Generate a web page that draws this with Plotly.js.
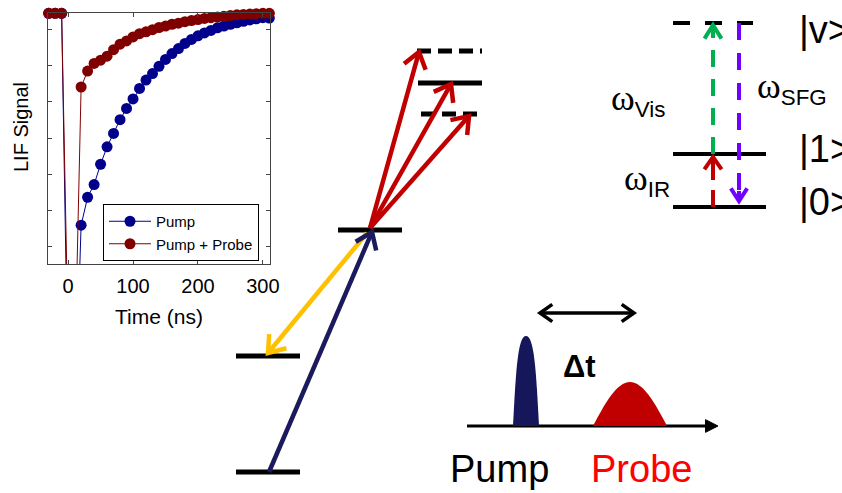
<!DOCTYPE html>
<html>
<head>
<meta charset="utf-8">
<script src="https://cdn.plot.ly/plotly-3.0.1.min.js"></script>
<style>
  html, body { margin: 0; padding: 0; background: #ffffff; }
  #chart { width: 842px; height: 493px; }
</style>
</head>
<body>
<div id="chart"></div>
<script>
// ---------------- chart data ----------------
const timeNs = [-30, -20, -10, 0, 10, 20, 30, 40, 50, 60, 70, 80, 90, 100, 110, 120, 130, 140, 150,
                160, 170, 180, 190, 200, 210, 220, 230, 240, 250, 260, 270, 280, 290, 300, 310];
const pumpSignal = [6.44, 6.44, 6.44, -4.0, -5.0, 0.60, 1.37, 1.72, 2.28, 2.76, 3.13, 3.51, 3.82, 4.08, 4.37,
                    4.60, 4.78, 4.98, 5.17, 5.33, 5.47, 5.61, 5.72, 5.82, 5.90, 5.97, 6.04, 6.09, 6.14,
                    6.18, 6.22, 6.26, 6.29, 6.32, 6.31];
const pumpProbeSignal = [6.44, 6.44, 6.44, -2.5, -3.5, 4.41, 4.85, 5.06, 5.15, 5.26, 5.44, 5.59, 5.68, 5.79,
                         5.88, 5.93, 5.99, 6.05, 6.09, 6.14, 6.17, 6.21, 6.24, 6.27, 6.30, 6.32, 6.34, 6.36,
                         6.38, 6.40, 6.41, 6.42, 6.43, 6.44, 6.44];
const seriesNames = ['Pump', 'Pump + Probe'];
const xTickVals = [0, 100, 200, 300];
const xTickText = ['0', '100', '200', '300'];
const xAxisTitle = 'Time (ns)';
const yAxisTitle = 'LIF Signal';

// ---------------- schematic (figure pixel coordinates) ----------------
const W = 842, H = 493;
const px = x => x / W;
const py = y => 1 - y / H;
const FONT = 'Liberation Sans, Arial, sans-serif';

// energy levels: [x0, x1, y, dash, width]
const levels = [
  [417, 482, 51, '14px,7px', 5],
  [418, 482, 83, 'solid', 5],
  [421, 478, 114, '14px,7px', 5],
  [338, 402, 230, 'solid', 5],
  [236, 300, 356, 'solid', 5],
  [236, 300, 472, 'solid', 5],
  [673, 753, 23, '17px,15px', 4],
  [673, 766, 154, 'solid', 4],
  [673, 766, 207, 'solid', 4]
];
// arrows: [fromX, fromY, toX, toY, color, width, headLen, headAngleDeg, bothEnds, dash, filledHead]
const arrows = [
  [367, 233, 268, 353, '#FFC000', 4.5, 19, 36, false, 'solid', false],
  [269, 472, 372, 232, '#1A1A5C', 4.5, 19, 36, false, 'solid', false],
  [370, 228, 419, 52, '#C00000', 4.5, 19, 36, false, 'solid', false],
  [370, 228, 451, 84, '#C00000', 4.5, 19, 36, false, 'solid', false],
  [370, 228, 469, 116, '#C00000', 4.5, 19, 36, false, 'solid', false],
  [467, 426, 718, 426, '#000000', 3, 14, 27, false, 'solid', true],
  [540, 313, 634, 313, '#000000', 3.5, 15, 35, true, 'solid', false],
  [713, 154, 713, 25, '#00B050', 4, 16, 32, false, '17px,12px', false],
  [713, 207, 713, 157, '#C00000', 4, 15, 35, false, '17px,10px', false],
  [739, 23, 739, 201, '#7000FF', 4, 15, 33, false, '17px,13px', false]
];
// pulses: [cubic path points, color]
const pulses = [
  [[[513, 426], [516, 368], [518, 336], [526, 336], [534, 336], [536, 368], [539, 426]], '#16165A'],
  [[[593, 426], [605, 403], [617, 382], [630, 382], [643, 382], [655, 403], [667, 426]], '#C00000']
];
const OMEGA = '<span style="font-family:Liberation Serif, serif;font-size:36px">ω</span>';
// labels: [text, x, y, size, color, xanchor, angle]
const labels = [
  ['<b>Δt</b>', 579, 366, 31, '#000000', 'center', 0],
  ['Pump', 499, 469, 38, '#000000', 'center', 0],
  ['Probe', 641, 469, 38, '#FF0000', 'center', 0],
  ['|v&gt;', 797, 30, 38, '#000000', 'left', 0],
  ['|1&gt;', 797, 149, 38, '#000000', 'left', 0],
  ['|0&gt;', 797, 202, 38, '#000000', 'left', 0],
  [OMEGA + '<sub>Vis</sub>', 609, 100, 32, '#000000', 'left', 0],
  [OMEGA + '<sub>SFG</sub>', 755, 88, 32, '#000000', 'left', 0],
  [OMEGA + '<sub>IR</sub>', 622, 180, 32, '#000000', 'left', 0],
  [yAxisTitle, 21, 127, 20, '#000000', 'center', -90]
];

// ---------------- build ----------------
const shapes = [];
const P = (x, y) => px(x).toFixed(5) + ',' + py(y).toFixed(5);

levels.forEach(l => shapes.push({
  type: 'line', xref: 'paper', yref: 'paper',
  x0: px(l[0]), x1: px(l[1]), y0: py(l[2]), y1: py(l[2]),
  line: { color: '#000000', width: l[4], dash: l[3] }
}));

function head(tipX, tipY, dirX, dirY, len, ang, color, width, filled) {
  const a = ang * Math.PI / 180;
  const ends = [a, -a].map(t => {
    const c = Math.cos(t), s = Math.sin(t);
    const rx = dirX * c - dirY * s, ry = dirX * s + dirY * c;
    return [tipX - len * rx, tipY - len * ry];
  });
  const path = 'M' + P(ends[0][0], ends[0][1]) + ' L' + P(tipX, tipY) + ' L' + P(ends[1][0], ends[1][1]) + (filled ? ' Z' : '');
  return {
    type: 'path', xref: 'paper', yref: 'paper', path: path,
    fillcolor: filled ? color : 'rgba(0,0,0,0)',
    line: { color: color, width: filled ? 1 : width }
  };
}

arrows.forEach(a => {
  const [x0, y0, x1, y1, color, width, len, ang, both, dash, filled] = a;
  const d = Math.hypot(x1 - x0, y1 - y0);
  const ux = (x1 - x0) / d, uy = (y1 - y0) / d;
  const back = filled ? len * 0.8 : 1;
  const sx0 = both ? x0 + ux * 1 : x0, sy0 = both ? y0 + uy * 1 : y0;
  shapes.push({
    type: 'line', xref: 'paper', yref: 'paper',
    x0: px(sx0), y0: py(sy0), x1: px(x1 - ux * back), y1: py(y1 - uy * back),
    line: { color: color, width: width, dash: dash }
  });
  if (dash !== 'solid') {
    shapes.push({
      type: 'line', xref: 'paper', yref: 'paper',
      x0: px(x1 - ux * 10), y0: py(y1 - uy * 10), x1: px(x1 - ux * 1), y1: py(y1 - uy * 1),
      line: { color: color, width: width }
    });
  }
  shapes.push(head(x1, y1, ux, uy, len, ang, color, width, filled));
  if (both) shapes.push(head(x0, y0, -ux, -uy, len, ang, color, width, filled));
});

pulses.forEach(p => {
  const pt = p[0].map(q => P(q[0], q[1]));
  shapes.push({
    type: 'path', xref: 'paper', yref: 'paper',
    path: 'M' + pt[0] + ' C' + pt[1] + ' ' + pt[2] + ' ' + pt[3] + ' C' + pt[4] + ' ' + pt[5] + ' ' + pt[6] + ' Z',
    fillcolor: p[1], line: { width: 0 }
  });
});

const annotations = labels.map(t => ({
  xref: 'paper', yref: 'paper', x: px(t[1]), y: py(t[2]),
  xanchor: t[5], yanchor: 'middle', text: t[0], showarrow: false, textangle: t[6],
  font: { family: FONT, size: t[3], color: t[4] }
}));

const traces = [
  { x: timeNs, y: pumpSignal, name: seriesNames[0], type: 'scatter', mode: 'lines+markers',
    line: { color: '#00008C', width: 1 }, marker: { color: '#00008C', size: 11 }, cliponaxis: false },
  { x: timeNs, y: pumpProbeSignal, name: seriesNames[1], type: 'scatter', mode: 'lines+markers',
    line: { color: '#800000', width: 1 }, marker: { color: '#800000', size: 11 }, cliponaxis: false }
];

const layout = {
  width: W, height: H,
  margin: { l: 0, r: 0, t: 0, b: 0 },
  paper_bgcolor: '#ffffff', plot_bgcolor: '#ffffff',
  font: { family: FONT, color: '#000000' },
  showlegend: true,
  legend: {
    x: px(103), y: py(204), xanchor: 'left', yanchor: 'top',
    bgcolor: '#ffffff', bordercolor: '#000000', borderwidth: 1, itemwidth: 42,
    font: { family: FONT, size: 15, color: '#000000' }, tracegroupgap: 0
  },
  xaxis: {
    domain: [px(48), px(270)], range: [-31, 311], anchor: 'y',
    tickmode: 'array', tickvals: xTickVals, ticktext: xTickText,
    ticks: 'inside', ticklen: 4, tickcolor: '#444444', mirror: 'ticks',
    showline: true, linecolor: '#444444', linewidth: 1,
    showgrid: false, zeroline: false, ticklabelstandoff: 4,
    tickfont: { family: FONT, size: 20, color: '#000000' },
    title: { text: xAxisTitle, font: { family: FONT, size: 21, color: '#000000' }, standoff: 13 }
  },
  yaxis: {
    domain: [py(264), py(13)], range: [-0.47, 6.45], anchor: 'x',
    tick0: 0, dtick: 1, showticklabels: false,
    ticks: 'inside', ticklen: 4, tickcolor: '#444444', mirror: 'ticks',
    showline: true, linecolor: '#444444', linewidth: 1,
    showgrid: false, zeroline: false
  },
  shapes: shapes,
  annotations: annotations
};

Plotly.newPlot('chart', traces, layout, { displayModeBar: false, staticPlot: true });
</script>
</body>
</html>
